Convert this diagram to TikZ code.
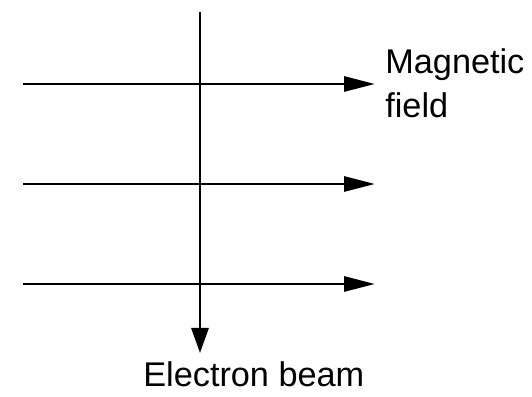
\documentclass[tikz,border=0pt]{standalone}
\usepackage{fontspec}
\setmainfont{Liberation Sans}
\usepackage{tikz}
\usetikzlibrary{arrows.meta, positioning}

\begin{document}
\begin{tikzpicture}[
  fieldline/.style={-{Triangle[length=0.62cm, width=0.30cm]}, line width=1.7pt},
  beamline/.style={-{Triangle[length=0.50cm, width=0.34cm]}, line width=1.7pt},
  lbl/.style={font=\fontsize{19.5}{25.6}\selectfont, inner sep=0pt, align=left}
]
  \useasboundingbox (0, 0) rectangle (10.64, 7.94);

  % electron beam
  \coordinate (btop) at (4.00, 7.70);
  \coordinate (bend) at (4.00, 0.88);
  \draw[beamline] (btop) -- (bend);

  % field lines
  \foreach \i/\y in {1/6.26, 2/4.26, 3/2.26} {
    \coordinate (fs\i) at (0.46, \y);
    \coordinate (fe\i) at (7.50, \y);
    \draw[fieldline] (fs\i) -- (fe\i);
  }

  \node[lbl, anchor=base west] (field) at (7.70, 5.58) {Magnetic\\field};
  \node[lbl, anchor=base west] (beam)  at (2.86, 0.20) {Electron beam};
\end{tikzpicture}
\end{document}
